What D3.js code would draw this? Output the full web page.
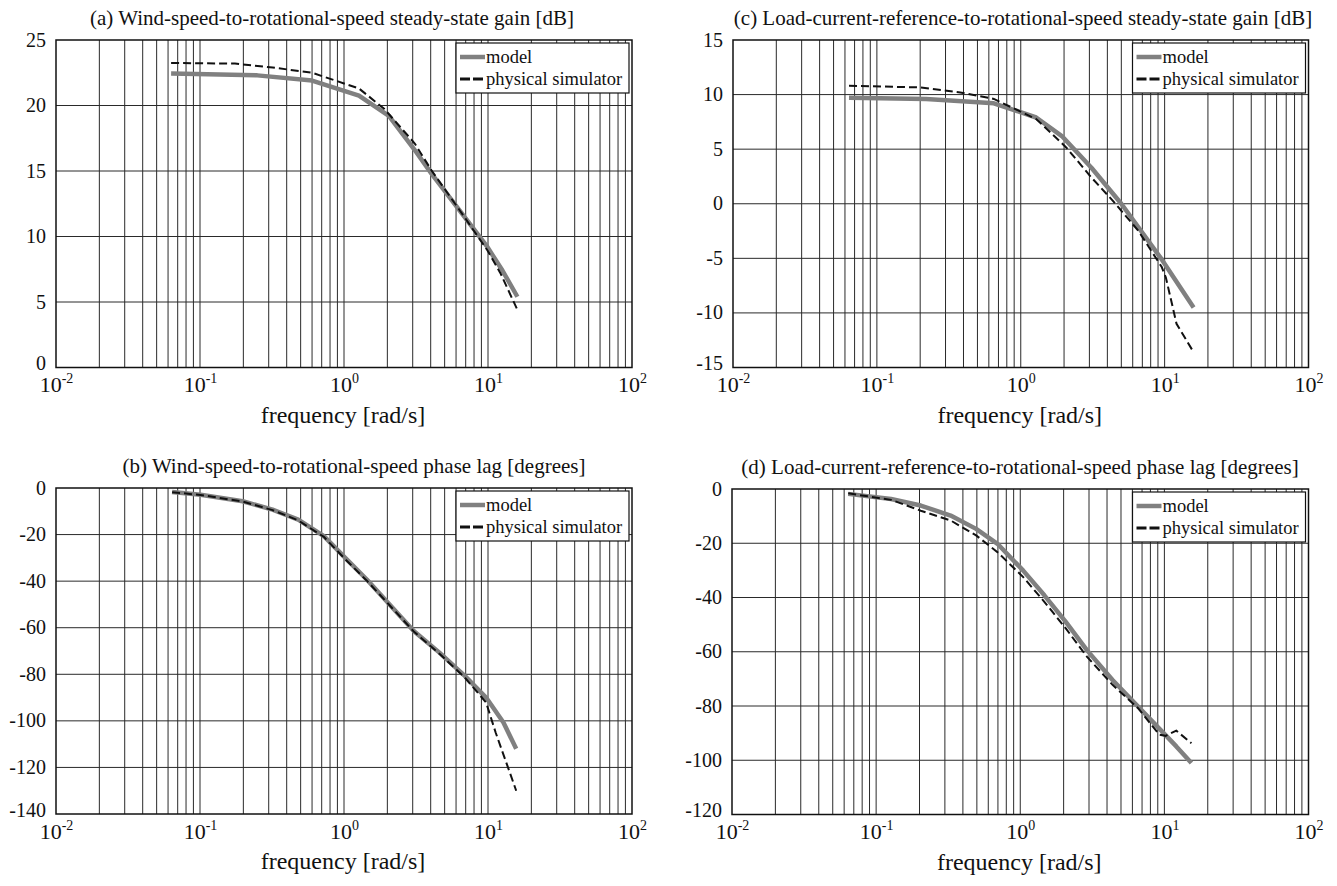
<!DOCTYPE html>
<html><head><meta charset="utf-8">
<script src="https://cdn.jsdelivr.net/npm/d3@7"></script>
<style>
body{margin:0;background:#fff}
svg{display:block}
text{font-family:"Liberation Serif","Times New Roman",serif;fill:#111}
</style>
</head><body>
<svg id="chart" width="1337" height="886"></svg>
<script>
// ---------- data ----------
const xTickExponents = [-2, -1, 0, 1, 2];
const xLabel = "frequency [rad/s]";
const legendLabels = ["model", "physical simulator"];

// (a) wind speed -> rotational speed gain [dB]
const freqA_model = [0.063, 0.25, 0.6, 1.27, 2.05, 3.1, 4.05, 6.6, 9.9, 12.6, 16];
const gainA_model = [22.45, 22.3, 21.9, 20.75, 19.2, 16.6, 14.8, 11.75, 9.2, 7.4, 5.4];
const freqA_sim   = [0.063, 0.175, 0.32, 0.6, 1.27, 1.9, 3.1, 4.05, 6.6, 9.9, 12.2, 16];
const gainA_sim   = [23.25, 23.2, 22.9, 22.5, 21.3, 19.75, 17.1, 15.05, 11.75, 8.95, 7.2, 4.4];
const yTicksA = [0, 5, 10, 15, 20, 25];

// (c) load current reference -> rotational speed gain [dB]
const freqC_model = [0.064, 0.22, 0.65, 1.28, 1.93, 3.1, 5.0, 9.55, 15.9];
const gainC_model = [9.7, 9.6, 9.2, 7.9, 6.2, 3.3, 0.0, -5.1, -9.5];
const freqC_sim   = [0.064, 0.2, 0.38, 0.65, 1.28, 2.07, 3.1, 4.37, 6.57, 9.55, 10.2, 12.1, 15.9];
const gainC_sim   = [10.8, 10.66, 10.2, 9.6, 7.76, 5.16, 2.4, 0.27, -2.48, -5.8, -6.75, -11.0, -13.6];
const yTicksC = [-15, -10, -5, 0, 5, 10, 15];

// (b) wind speed -> rotational speed phase lag [deg]
const freqB_model = [0.064, 0.101, 0.198, 0.319, 0.481, 0.725, 1.02, 1.44, 2.02, 3.05, 4.6, 6.9, 9.7, 12.8, 15.7];
const phaseB_model = [-1.7, -2.9, -5.7, -9.3, -13.6, -20.7, -30, -39.3, -49.3, -61.4, -70.7, -80.7, -90, -100.7, -112];
const freqB_sim   = [0.064, 0.101, 0.198, 0.319, 0.481, 0.725, 1.02, 1.44, 2.02, 3.05, 4.6, 6.9, 9.7, 11.3, 15.7];
const phaseB_sim  = [-1.8, -3.0, -5.8, -9.5, -13.9, -21.0, -30.6, -39.8, -49.6, -61.6, -71.2, -81.4, -92.1, -105, -130];
const yTicksB = [-140, -120, -100, -80, -60, -40, -20, 0];

// (d) load current reference -> rotational speed phase lag [deg]
const freqD_model = [0.064, 0.127, 0.204, 0.329, 0.494, 0.695, 1.045, 1.47, 2.07, 2.9, 4.37, 6.57, 9.88, 12.1, 15.4];
const phaseD_model = [-1.8, -3.7, -6.1, -9.8, -14.7, -20.2, -30, -39.2, -49, -59.4, -70.4, -80.2, -90, -94.9, -101];
const freqD_sim   = [0.064, 0.127, 0.204, 0.329, 0.494, 0.695, 1.045, 1.47, 2.07, 2.9, 4.37, 6.57, 9.23, 10.2, 12.1, 15.4];
const phaseD_sim  = [-1.6, -4.0, -8.0, -11.6, -17.1, -23.3, -32.4, -41.6, -51.4, -61.8, -72.2, -80.8, -90.6, -91, -89.1, -93.7];
const yTicksD = [-120, -100, -80, -60, -40, -20, 0];

const titles = {
  a: "(a) Wind-speed-to-rotational-speed steady-state gain [dB]",
  b: "(b) Wind-speed-to-rotational-speed phase lag [degrees]",
  c: "(c) Load-current-reference-to-rotational-speed steady-state gain [dB]",
  d: "(d) Load-current-reference-to-rotational-speed phase lag [degrees]"
};

// ---------- layout ----------
const panels = [
  {id:"a", box:[56, 40, 632, 367.5], titleX:332, yTicks:yTicksA, fm:freqA_model, vm:gainA_model, fs:freqA_sim, vs:gainA_sim},
  {id:"c", box:[733, 40, 1308.5, 367.5], titleX:1023, yTicks:yTicksC, fm:freqC_model, vm:gainC_model, fs:freqC_sim, vs:gainC_sim},
  {id:"b", box:[56, 488, 632, 814], titleX:354, yTicks:yTicksB, fm:freqB_model, vm:phaseB_model, fs:freqB_sim, vs:phaseB_sim},
  {id:"d", box:[732, 489, 1308.5, 814.5], titleX:1020, yTicks:yTicksD, fm:freqD_model, vm:phaseD_model, fs:freqD_sim, vs:phaseD_sim}
];

const svg = d3.select("#chart");
const defs = svg.append("defs");

panels.forEach(p => {
  const [L, T, R, B] = p.box;
  const x = d3.scaleLog().domain([0.01, 100]).range([L, R]);
  const yExt = d3.extent(p.yTicks);
  const y = d3.scaleLinear().domain(yExt).range([B, T]);
  const g = svg.append("g");

  defs.append("clipPath").attr("id", "clip-" + p.id)
    .append("rect").attr("x", L).attr("y", T).attr("width", R - L).attr("height", B - T);

  // minor/major vertical grid
  const vgrid = [];
  for (let e = -2; e < 2; e++) for (let k = 1; k <= 9; k++) vgrid.push(k * Math.pow(10, e));
  g.append("g").selectAll("line").data(vgrid.filter(v => v > 0.0100001)).join("line")
    .attr("x1", d => x(d)).attr("x2", d => x(d)).attr("y1", T).attr("y2", B)
    .attr("stroke", "#2a2a2a").attr("stroke-width", 1);
  // horizontal grid
  g.append("g").selectAll("line").data(p.yTicks.slice(1, -1)).join("line")
    .attr("x1", L).attr("x2", R).attr("y1", d => y(d)).attr("y2", d => y(d))
    .attr("stroke", "#2a2a2a").attr("stroke-width", 1);

  // y axis labels via d3 axis
  const ya = g.append("g").attr("transform", `translate(${L},0)`)
    .call(d3.axisLeft(y).tickValues(p.yTicks).tickSize(0).tickPadding(10).tickFormat(d => String(d)));
  ya.select(".domain").remove();
  ya.attr("font-family", null).attr("font-size", null);
  ya.selectAll("text").attr("font-size", 20).attr("fill", "#111")
    .attr("dy", (d, i) => i === 0 ? "0.12em" : "0.3em");

  // x axis labels
  const xa = g.append("g").attr("transform", `translate(0,${B})`)
    .call(d3.axisBottom(x).tickValues(xTickExponents.map(e => Math.pow(10, e))).tickSize(0).tickFormat(""));
  xa.select(".domain").remove();
  xa.attr("font-family", null).attr("font-size", null);
  xa.selectAll(".tick").each(function(d, i) {
    const t = d3.select(this).append("text").attr("y", 24.5).attr("text-anchor", "middle")
      .attr("font-size", 22).attr("fill", "#111");
    t.append("tspan").text("10");
    t.append("tspan").attr("dy", -9).attr("font-size", 14).text(String(xTickExponents[i]));
  });

  // x label
  g.append("text").attr("x", (L + R) / 2 - 1).attr("y", B + 55).attr("text-anchor", "middle")
    .attr("font-size", 24).text(xLabel);
  // title
  g.append("text").attr("x", p.titleX).attr("y", T - 15).attr("text-anchor", "middle")
    .attr("font-size", 21).text(titles[p.id]);

  // curves
  const line = d3.line().x(d => x(d[0])).y(d => y(d[1]));
  const cg = g.append("g").attr("clip-path", `url(#clip-${p.id})`);
  cg.append("path").datum(d3.zip(p.fm, p.vm)).attr("d", line)
    .attr("fill", "none").attr("stroke", "#808080").attr("stroke-width", 4.5).attr("stroke-linejoin", "round");
  cg.append("path").datum(d3.zip(p.fs, p.vs)).attr("d", line)
    .attr("fill", "none").attr("stroke", "#111").attr("stroke-width", 2).attr("stroke-dasharray", "8,4");

  // frame
  g.append("rect").attr("x", L).attr("y", T).attr("width", R - L).attr("height", B - T)
    .attr("fill", "none").attr("stroke", "#111").attr("stroke-width", 1.5);

  // legend
  const lx = R - 176, ly = T + 3, lw = 173, lh = 50;
  const lg = g.append("g");
  lg.append("rect").attr("x", lx).attr("y", ly).attr("width", lw).attr("height", lh)
    .attr("fill", "#fff").attr("stroke", "#111").attr("stroke-width", 1.2);
  lg.append("line").attr("x1", lx + 4).attr("x2", lx + 29).attr("y1", ly + 14).attr("y2", ly + 14)
    .attr("stroke", "#808080").attr("stroke-width", 4.5);
  lg.append("line").attr("x1", lx + 4).attr("x2", lx + 29).attr("y1", ly + 36).attr("y2", ly + 36)
    .attr("stroke", "#111").attr("stroke-width", 3).attr("stroke-dasharray", "10,3");
  lg.append("text").attr("x", lx + 30).attr("y", ly + 20).attr("font-size", 18.5).text(legendLabels[0]);
  lg.append("text").attr("x", lx + 30).attr("y", ly + 42).attr("font-size", 18.5).text(legendLabels[1]);
});
</script>
</body></html>
